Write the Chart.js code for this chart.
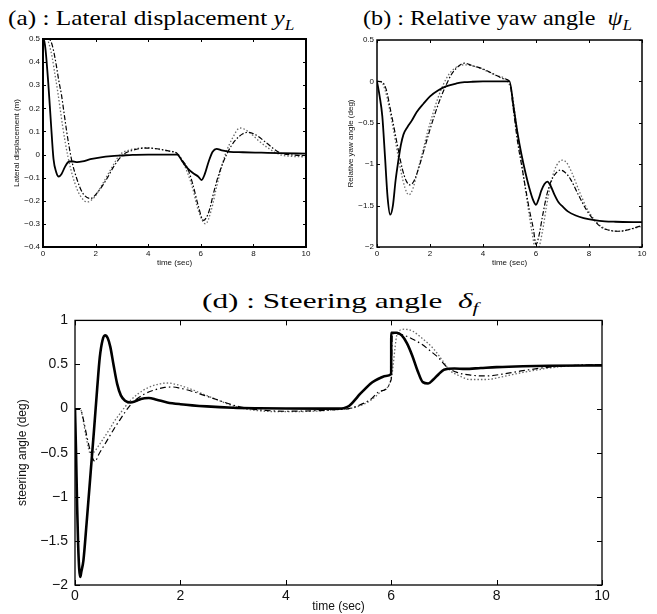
<!DOCTYPE html>
<html>
<head>
<meta charset="utf-8">
<script src="https://cdn.jsdelivr.net/npm/chart.js@4"></script>
<style>
body { margin: 0; background: #fff; width: 657px; height: 614px; position: relative; overflow: hidden; }
.ttl { position: absolute; font-family: "Liberation Serif", "Times New Roman", serif; font-size: 22px; line-height: 1; white-space: nowrap; color: #000; transform-origin: 0 0; }
.ttl sub { font-size: 15px; vertical-align: baseline; position: relative; top: 5px; }
canvas { position: absolute; }
</style>
</head>
<body>
<div class="ttl" style="left:8px;top:7px;transform:scaleX(1.15)">(a) : Lateral displacement <i>y<sub>L</sub></i></div>
<div class="ttl" style="left:363px;top:7px;transform:scaleX(1.1)">(b) : Relative yaw angle&nbsp; <i>ψ<sub>L</sub></i></div>
<div class="ttl" style="left:202px;top:290px;transform:scaleX(1.42)">(d) : Steering angle&nbsp; <i>δ<sub>f</sub></i></div>
<canvas id="chartA" width="330" height="245" style="left:0;top:30px"></canvas>
<canvas id="chartB" width="327" height="245" style="left:330px;top:30px"></canvas>
<canvas id="chartD" width="657" height="309" style="left:0;top:305px"></canvas>
<script>
const xTicks = [0, 2, 4, 6, 8, 10];

// (a) lateral displacement
const aYTicks = [-0.4, -0.3, -0.2, -0.1, 0, 0.1, 0.2, 0.3, 0.4, 0.5];
const aSolidT = [0, 0.05, 0.1, 0.2, 0.3, 0.4, 0.5, 0.6, 0.7, 0.85, 1.0, 1.15, 1.3, 1.5, 1.8, 2.2, 2.6, 3.0, 3.4, 4.0, 5.0, 5.1, 5.3, 5.5, 5.7, 5.9, 6.03, 6.15, 6.3, 6.45, 6.6, 6.8, 7.1, 7.6, 8.3, 9.0, 10];
const aSolidY = [0.5, 0.49, 0.45, 0.31, 0.14, -0.02, -0.075, -0.095, -0.085, -0.05, -0.03, -0.03, -0.033, -0.03, -0.02, -0.012, -0.007, -0.004, -0.001, 0, 0, 0, -0.03, -0.06, -0.08, -0.095, -0.11, -0.085, -0.03, 0.012, 0.025, 0.018, 0.012, 0.01, 0.008, 0.006, 0.004];
const aDashT = [0, 0.2, 0.3, 0.4, 0.5, 0.6, 0.7, 0.8, 0.9, 1.0, 1.1, 1.3, 1.5, 1.8, 2.1, 2.4, 2.7, 3.05, 3.4, 3.7, 4.0, 4.4, 4.8, 5.1, 5.3, 5.5, 5.7, 5.9, 6.1, 6.3, 6.5, 6.7, 7.0, 7.3, 7.6, 7.8, 8.1, 8.5, 9.0, 9.5, 10];
const aDashY = [0.5, 0.5, 0.49, 0.45, 0.39, 0.32, 0.26, 0.18, 0.1, 0.03, -0.03, -0.11, -0.165, -0.19, -0.16, -0.11, -0.05, 0, 0.018, 0.026, 0.028, 0.024, 0.015, 0.005, -0.025, -0.06, -0.13, -0.22, -0.285, -0.25, -0.16, -0.08, 0.005, 0.06, 0.09, 0.096, 0.085, 0.05, 0.008, -0.002, -0.005];
const aDotT = [0, 0.15, 0.25, 0.35, 0.45, 0.55, 0.65, 0.75, 0.85, 0.95, 1.05, 1.2, 1.4, 1.68, 1.95, 2.25, 2.6, 2.93, 3.3, 3.6, 3.9, 4.3, 4.7, 5.1, 5.3, 5.5, 5.7, 5.9, 6.18, 6.4, 6.6, 6.8, 6.93, 7.2, 7.49, 7.8, 8.2, 8.6, 9.0, 9.5, 10];
const aDotY = [0.5, 0.5, 0.47, 0.42, 0.35, 0.28, 0.2, 0.12, 0.05, -0.01, -0.06, -0.12, -0.175, -0.205, -0.185, -0.13, -0.06, 0, 0.02, 0.027, 0.03, 0.025, 0.016, 0.005, -0.03, -0.08, -0.15, -0.24, -0.3, -0.24, -0.14, -0.05, 0, 0.07, 0.115, 0.1, 0.06, 0.025, 0, -0.008, -0.01];

// (b) relative yaw angle
const bYTicks = [-2, -1.5, -1, -0.5, 0, 0.5];
const bSolidT = [0, 0.1, 0.2, 0.3, 0.4, 0.5, 0.6, 0.7, 0.8, 0.9, 1.0, 1.15, 1.3, 1.5, 1.75, 2.0, 2.3, 2.6, 3.0, 3.3, 3.6, 4.0, 5.0, 5.15, 5.3, 5.45, 5.6, 5.75, 5.9, 6.0, 6.1, 6.2, 6.32, 6.43, 6.55, 6.7, 6.85, 7.0, 7.2, 7.5, 7.8, 8.2, 8.6, 9.0, 10];
const bSolidY = [0, -0.18, -0.42, -0.9, -1.4, -1.61, -1.5, -1.2, -0.97, -0.77, -0.64, -0.55, -0.48, -0.37, -0.27, -0.18, -0.11, -0.06, -0.025, -0.01, -0.004, 0, 0, -0.3, -0.62, -0.88, -1.1, -1.29, -1.44, -1.49, -1.42, -1.32, -1.24, -1.21, -1.26, -1.37, -1.46, -1.51, -1.57, -1.62, -1.65, -1.675, -1.69, -1.695, -1.7];
const bDashT = [0, 0.2, 0.35, 0.5, 0.65, 0.8, 0.95, 1.1, 1.25, 1.4, 1.6, 1.8, 2.0, 2.2, 2.4, 2.6, 2.8, 3.0, 3.3, 3.6, 4.0, 4.4, 4.8, 5.0, 5.15, 5.3, 5.45, 5.6, 5.75, 5.9, 6.0, 6.1, 6.25, 6.4, 6.55, 6.7, 6.92, 7.1, 7.3, 7.6, 7.9, 8.2, 8.5, 8.8, 9.17, 9.5, 9.8, 10];
const bDashY = [0, -0.01, -0.1, -0.33, -0.57, -0.82, -1.05, -1.2, -1.25, -1.2, -1.02, -0.8, -0.58, -0.38, -0.2, -0.05, 0.08, 0.16, 0.22, 0.19, 0.15, 0.09, 0.03, 0, -0.35, -0.72, -1.0, -1.28, -1.55, -1.78, -1.97, -1.88, -1.62, -1.38, -1.22, -1.13, -1.07, -1.1, -1.18, -1.37, -1.55, -1.68, -1.77, -1.8, -1.81, -1.79, -1.76, -1.74];
const bDotT = [0, 0.15, 0.3, 0.45, 0.6, 0.75, 0.9, 1.05, 1.2, 1.35, 1.5, 1.7, 1.9, 2.1, 2.3, 2.5, 2.7, 2.9, 3.1, 3.35, 3.7, 4.1, 4.5, 4.9, 5.1, 5.25, 5.4, 5.55, 5.7, 5.85, 6.0, 6.1, 6.25, 6.4, 6.55, 6.7, 6.85, 7.0, 7.15, 7.35, 7.6, 7.9, 8.2, 8.5, 8.8, 9.1, 9.5, 10];
const bDotY = [0, 0, -0.1, -0.3, -0.55, -0.82, -1.08, -1.28, -1.37, -1.3, -1.12, -0.88, -0.62, -0.4, -0.2, -0.04, 0.08, 0.15, 0.19, 0.2, 0.18, 0.13, 0.07, 0.01, -0.15, -0.5, -0.85, -1.2, -1.52, -1.82, -2.05, -2.02, -1.8, -1.5, -1.25, -1.07, -0.98, -0.95, -0.98, -1.1, -1.3, -1.52, -1.67, -1.76, -1.8, -1.81, -1.79, -1.75];

// (d) steering angle
const dYTicks = [-2, -1.5, -1, -0.5, 0, 0.5, 1];
const dSolidT = [0, 0.02, 0.04, 0.06, 0.08, 0.1, 0.12, 0.16, 0.22, 0.3, 0.36, 0.42, 0.47, 0.52, 0.57, 0.62, 0.67, 0.73, 0.8, 0.87, 0.95, 1.05, 1.15, 1.25, 1.4, 1.55, 1.75, 2.0, 2.5, 3.0, 3.5, 4.0, 5.0, 5.1, 5.2, 5.3, 5.4, 5.5, 5.6, 5.7, 5.8, 5.9, 6.0, 6.001, 6.1, 6.2, 6.3, 6.4, 6.5, 6.6, 6.7, 6.8, 6.9, 7.0, 7.2, 7.4, 7.7, 8.0, 8.5, 9.0, 10];
const dSolidY = [0, -0.5, -1.1, -1.55, -1.82, -1.91, -1.85, -1.72, -1.3, -0.7, -0.25, 0.22, 0.58, 0.77, 0.83, 0.8, 0.7, 0.5, 0.28, 0.15, 0.09, 0.07, 0.085, 0.11, 0.12, 0.1, 0.07, 0.05, 0.025, 0.01, 0.004, 0.001, 0, 0.005, 0.03, 0.09, 0.16, 0.22, 0.28, 0.32, 0.35, 0.37, 0.39, 0.86, 0.86, 0.83, 0.74, 0.6, 0.43, 0.3, 0.285, 0.33, 0.39, 0.44, 0.455, 0.45, 0.46, 0.47, 0.48, 0.485, 0.49];
const dDashT = [0, 0.1, 0.15, 0.22, 0.3, 0.38, 0.45, 0.55, 0.65, 0.75, 0.85, 0.95, 1.05, 1.15, 1.3, 1.5, 1.7, 1.85, 2.0, 2.2, 2.45, 2.7, 3.0, 3.3, 3.6, 4.0, 4.5, 5.0, 5.2, 5.4, 5.6, 5.8, 6.0, 6.02, 6.2, 6.4, 6.58, 6.75, 6.9, 7.06, 7.25, 7.5, 7.8, 8.1, 8.5, 9.0, 9.5, 10];
const dDashY = [0, 0, -0.1, -0.3, -0.5, -0.6, -0.52, -0.42, -0.32, -0.22, -0.13, -0.04, 0.04, 0.1, 0.16, 0.21, 0.24, 0.245, 0.23, 0.2, 0.15, 0.1, 0.04, 0, -0.02, -0.03, -0.025, -0.01, 0, 0.04, 0.1, 0.2, 0.33, 0.85, 0.84, 0.79, 0.73, 0.65, 0.575, 0.47, 0.41, 0.38, 0.37, 0.39, 0.43, 0.47, 0.49, 0.5];
const dDotT = [0, 0.1, 0.15, 0.22, 0.3, 0.35, 0.45, 0.55, 0.65, 0.75, 0.85, 0.95, 1.05, 1.2, 1.4, 1.6, 1.75, 1.95, 2.2, 2.45, 2.7, 3.0, 3.3, 3.6, 4.0, 4.5, 5.0, 5.2, 5.4, 5.6, 5.8, 6.0, 6.12, 6.25, 6.4, 6.58, 6.8, 6.98, 7.1, 7.3, 7.5, 7.8, 8.1, 8.5, 9.0, 9.5, 10];
const dDotY = [0, 0, -0.12, -0.35, -0.52, -0.5, -0.42, -0.33, -0.24, -0.14, -0.06, 0.02, 0.09, 0.17, 0.24, 0.28, 0.29, 0.27, 0.22, 0.16, 0.1, 0.03, -0.01, -0.03, -0.035, -0.03, -0.01, 0, 0.03, 0.09, 0.19, 0.34, 0.86, 0.9, 0.88, 0.8, 0.68, 0.54, 0.44, 0.37, 0.33, 0.33, 0.36, 0.41, 0.46, 0.49, 0.5];

const SANS = '"Liberation Sans", Arial, Helvetica, sans-serif';

function pts(ts, ys) {
    return ts.map((t, i) => ({ x: t, y: ys[i] }));
}

function fmt(v) {
    const s = String(Math.round(Math.abs(v) * 100) / 100);
    return v < -1e-9 ? '\u2212' + s : s;
}

// matlab style box with inward ticks on all four sides
const boxPlugin = {
    id: 'box',
    afterDatasetsDraw(chart, args, opts) {
        const { ctx, chartArea: a, scales: { x, y } } = chart;
        ctx.save();
        ctx.strokeStyle = '#000';
        ctx.lineWidth = 1;
        ctx.beginPath();
        x.ticks.forEach(t => {
            const px = Math.round(x.getPixelForValue(t.value)) + 0.5;
            ctx.moveTo(px, a.bottom); ctx.lineTo(px, a.bottom - opts.len);
            ctx.moveTo(px, a.top); ctx.lineTo(px, a.top + opts.len);
        });
        y.ticks.forEach(t => {
            const py = Math.round(y.getPixelForValue(t.value)) + 0.5;
            ctx.moveTo(a.left, py); ctx.lineTo(a.left + opts.len, py);
            ctx.moveTo(a.right, py); ctx.lineTo(a.right - opts.len, py);
        });
        ctx.stroke();
        ctx.lineWidth = opts.border;
        ctx.strokeRect(a.left, a.top, a.right - a.left, a.bottom - a.top);
        ctx.restore();
    }
};

function makeChart(id, o) {
    const solid = { data: pts(o.s[0], o.s[1]), borderColor: '#000', borderWidth: o.lw, pointRadius: 0, cubicInterpolationMode: 'monotone' };
    const dash = { data: pts(o.d[0], o.d[1]), borderColor: '#000', borderWidth: 1.2, borderDash: o.dashPat, pointRadius: 0, cubicInterpolationMode: 'monotone' };
    const dot = { data: pts(o.p[0], o.p[1]), borderColor: '#6a6a6a', borderWidth: 1.3, borderDash: [1.5, 2], pointRadius: 0, cubicInterpolationMode: 'monotone' };
    return new Chart(document.getElementById(id), {
        type: 'line',
        data: { datasets: [solid, dash, dot] },
        plugins: [boxPlugin],
        options: {
            responsive: false,
            animation: false,
            layout: { padding: o.pad },
            plugins: {
                legend: { display: false },
                tooltip: { enabled: false },
                box: { len: o.tickLen, border: o.border }
            },
            scales: {
                x: {
                    type: 'linear', min: 0, max: 10,
                    afterBuildTicks: s => { s.ticks = xTicks.map(v => ({ value: v })); },
                    afterFit: s => { s.height = o.xh; },
                    grid: { display: false, drawTicks: false },
                    border: { display: false },
                    ticks: { font: { family: SANS, size: o.fs }, color: '#111', padding: o.xpad, maxRotation: 0, autoSkip: false, callback: v => fmt(v) },
                    title: { display: true, text: 'time (sec)', font: { family: SANS, size: o.ts }, color: '#111', padding: { top: 0, bottom: o.xtp } }
                },
                y: {
                    type: 'linear', min: o.yTicks[0], max: o.yTicks[o.yTicks.length - 1],
                    afterBuildTicks: s => { s.ticks = o.yTicks.map(v => ({ value: v })); },
                    afterFit: s => { s.width = o.yw; },
                    grid: { display: false, drawTicks: false },
                    border: { display: false },
                    ticks: { font: { family: SANS, size: o.fs }, color: '#111', padding: o.ypad, autoSkip: false, callback: v => fmt(v) },
                    title: { display: true, text: o.ylabel, font: { family: SANS, size: o.ts }, color: '#111', padding: { top: o.ytp, bottom: 0 } }
                }
            }
        }
    });
}

makeChart('chartA', {
    s: [aSolidT, aSolidY], d: [aDashT, aDashY], p: [aDotT, aDotY],
    yTicks: aYTicks, ylabel: 'Lateral displacement (m)',
    pad: { top: 9, right: 24, left: 0, bottom: 0 },
    xh: 28, yw: 43, fs: 8, ts: 8, xpad: 2, ypad: 3, xtp: 7, ytp: 12,
    lw: 1.8, dashPat: [5, 2, 1.5, 2], tickLen: 3, border: 2
});

makeChart('chartB', {
    s: [bSolidT, bSolidY], d: [bDashT, bDashY], p: [bDotT, bDotY],
    yTicks: bYTicks, ylabel: 'Relative yaw angle (deg)',
    pad: { top: 10, right: 15, left: 0, bottom: 0 },
    xh: 28, yw: 47, fs: 8, ts: 8, xpad: 2, ypad: 3, xtp: 7, ytp: 16,
    lw: 1.8, dashPat: [5, 2, 1.5, 2], tickLen: 3, border: 1.5
});

makeChart('chartD', {
    s: [dSolidT, dSolidY], d: [dDashT, dDashY], p: [dDotT, dDotY],
    yTicks: dYTicks, ylabel: 'steering angle (deg)',
    pad: { top: 14, right: 55, left: 0, bottom: 0 },
    xh: 29, yw: 75, fs: 14, ts: 12, xpad: 3, ypad: 7, xtp: 0, ytp: 15,
    lw: 2.6, dashPat: [6, 3, 1.5, 3], tickLen: 5, border: 1.3
});
</script>
</body>
</html>
